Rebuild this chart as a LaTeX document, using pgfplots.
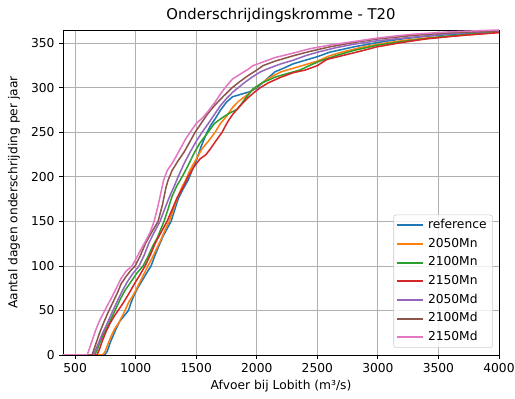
\documentclass[border=0pt]{standalone}
\usepackage{fontspec}
\setmainfont{DejaVu Sans}
\usepackage{pgfplots}
\pgfplotsset{compat=1.18}

\definecolor{c0}{HTML}{1F77B4}
\definecolor{c1}{HTML}{FF7F0E}
\definecolor{c2}{HTML}{2CA02C}
\definecolor{c3}{HTML}{D62728}
\definecolor{c4}{HTML}{9467BD}
\definecolor{c5}{HTML}{8C564B}
\definecolor{c6}{HTML}{E377C2}
\definecolor{gridgray}{HTML}{B0B0B0}
\definecolor{legframe}{HTML}{CCCCCC}

\newcommand{\lblfont}{\fontsize{9.2}{11}\selectfont}

\begin{document}
\begin{tikzpicture}
\path[use as bounding box] (-47.25pt,-33pt) rectangle (339pt,266.25pt);
\begin{axis}[
  scale only axis,
  width=327pt, height=243.75pt,
  xmin=400, xmax=4000, ymin=0, ymax=365,
  xtick={500,1000,...,4000},
  ytick={0,50,...,350},
  minor tick num=0,
  tick pos=left,
  tick align=outside,
  major tick length=2.8pt,
  tick style={black, line width=0.63pt},
  axis line style={line width=0.63pt},
  grid=major,
  grid style={color=gridgray, line width=0.63pt},
  /pgf/number format/1000 sep={},
  /pgf/number format/assume math mode=true,
  ticklabel style={font=\lblfont},
  title={Onderschrijdingskromme - T20},
  every axis title/.style={at={(axis description cs:0.5,1.046)}, anchor=center, font=\fontsize{11.1}{13}\selectfont},
  xlabel={Afvoer bij Lobith (m³/s)},
  ylabel={Aantal dagen onderschrijding per jaar},
  every axis x label/.style={at={(axis description cs:0.5,-0.096)}, anchor=center, font=\lblfont},
  every axis y label/.style={at={(axis description cs:-0.1124,0.5)}, rotate=90, anchor=center, font=\lblfont},
  legend cell align=left,
  legend style={
    at={(axis description cs:1,0)}, anchor=south east,
    xshift=-4.5pt, yshift=5.25pt,
    draw=legframe, rounded corners=2pt,
    fill=white, fill opacity=0.8, text opacity=1, draw opacity=1,
    font=\lblfont, row sep=5.4pt,
    inner xsep=2pt, inner ysep=3.5pt,
    nodes={inner ysep=0pt, inner xsep=2.6pt, text height=6.8pt, text depth=1.8pt},
  },
  legend image code/.code={\draw[#1, line width=1.6pt, draw opacity=1] (0pt,0pt) -- (19.5pt,0pt);},
  every axis plot/.append style={line width=1.15pt, line join=round},
]

% reference
\addplot[c0, line width=1.15pt] coordinates {
(400,0) (745,0) (765,4) (790,14) (815,22) (840,30) (870,38) (905,44) (940,50)
(965,60) (990,68) (1020,76) (1060,85) (1095,93) (1127,100) (1160,112) (1190,122)
(1225,133) (1260,142) (1292,150) (1320,162) (1350,175) (1390,186) (1432,196)
(1465,207) (1500,218) (1540,234) (1589,250) (1620,258) (1660,266) (1700,275)
(1750,284) (1800,290) (1850,292) (1900,294) (1950,296) (2000,300) (2050,306)
(2100,312) (2150,318) (2220,322) (2300,327) (2400,331) (2500,335) (2600,340)
(2800,346) (3000,351) (3200,355) (3400,358) (3600,360) (3800,362) (4000,364)
};
\addlegendentry{reference}

% 2050Mn
\addplot[c1, line width=1.15pt] coordinates {
(400,0) (725,0) (745,3) (770,12) (800,22) (830,30) (860,36) (890,44) (912,50)
(945,60) (975,66) (1010,75) (1050,86) (1080,94) (1102,100) (1140,110) (1175,120)
(1210,130) (1245,141) (1276,150) (1310,163) (1345,177) (1380,188) (1408,195)
(1450,208) (1500,220) (1550,232) (1600,240) (1655,250) (1700,260) (1750,268)
(1800,278) (1850,285) (1920,292) (1985,300) (2050,306) (2100,311) (2200,318)
(2300,322) (2400,326) (2500,330) (2600,336) (2700,340) (2850,345) (3000,349)
(3200,353) (3400,356) (3600,358) (3800,360) (4000,363)
};
\addlegendentry{2050Mn}

% 2100Mn
\addplot[c2, line width=1.15pt] coordinates {
(400,0) (660,0) (680,5) (705,14) (730,22) (760,30) (795,40) (830,50) (870,62)
(910,72) (960,82) (1010,92) (1061,100) (1100,110) (1140,122) (1180,132) (1234,150)
(1270,165) (1300,178) (1340,190) (1383,200) (1430,212) (1480,226) (1530,238)
(1597,250) (1650,260) (1720,267) (1780,272) (1840,276) (1900,287) (1969,299)
(2050,306) (2150,312) (2250,316) (2356,320) (2450,326) (2520,330) (2650,336)
(2800,342) (3000,348) (3200,352) (3500,357) (3800,361) (4000,363)
};
\addlegendentry{2100Mn}

% 2150Mn
\addplot[c3, line width=1.15pt] coordinates {
(400,0) (680,0) (700,6) (725,16) (755,26) (790,36) (825,44) (855,50) (895,58)
(940,68) (990,80) (1035,90) (1078,100) (1120,112) (1160,125) (1210,138) (1259,150)
(1300,163) (1340,176) (1390,188) (1432,200) (1480,211) (1530,220) (1580,225)
(1620,232) (1660,240) (1713,250) (1760,262) (1800,270) (1850,278) (1920,288)
(1980,295) (2026,300) (2100,306) (2200,312) (2300,317) (2400,320) (2500,325)
(2580,332) (2700,336) (2850,341) (2990,346) (3200,351) (3400,355) (3700,359)
(4000,362)
};
\addlegendentry{2150Mn}

% 2050Md
\addplot[c4, line width=1.15pt] coordinates {
(400,0) (650,0) (670,6) (695,14) (725,24) (760,34) (790,43) (813,50) (850,61)
(890,72) (930,82) (980,92) (1028,100) (1070,112) (1110,126) (1150,137) (1201,150)
(1240,164) (1280,178) (1320,190) (1350,200) (1400,215) (1450,228) (1500,240)
(1548,250) (1600,260) (1650,270) (1700,280) (1750,288) (1800,295) (1845,300)
(1900,306) (1960,312) (2030,318) (2100,322) (2200,327) (2300,331) (2400,336)
(2500,340) (2650,345) (2800,349) (3000,353) (3300,357) (3600,361) (4000,364)
};
\addlegendentry{2050Md}

% 2100Md
\addplot[c5, line width=1.15pt] coordinates {
(400,0) (640,0) (660,8) (680,16) (705,26) (735,36) (760,44) (780,50) (815,60)
(850,70) (880,80) (920,88) (960,95) (995,100) (1040,112) (1080,125) (1120,135)
(1150,142) (1185,150) (1220,168) (1250,188) (1267,196) (1300,207) (1350,218)
(1400,228) (1450,240) (1490,250) (1540,260) (1590,270) (1650,280) (1720,290)
(1795,300) (1850,306) (1920,313) (2000,320) (2052,325) (2150,330) (2300,336)
(2440,341) (2600,346) (2800,351) (3000,355) (3300,359) (3600,362) (4000,364)
};
\addlegendentry{2100Md}

% 2150Md
\addplot[c6, line width=1.15pt] coordinates {
(400,0) (600,0) (620,8) (645,18) (670,28) (700,38) (730,46) (760,54) (800,64)
(840,75) (880,86) (920,94) (970,100) (1010,110) (1050,120) (1090,130) (1120,138)
(1152,150) (1180,165) (1205,180) (1230,196) (1260,207) (1300,215) (1330,222)
(1370,232) (1410,242) (1449,250) (1500,260) (1550,266) (1600,274) (1650,283)
(1700,293) (1737,300) (1800,310) (1870,316) (1930,321) (1969,325) (2050,329)
(2150,334) (2300,339) (2440,344) (2600,348) (2800,352) (3000,356) (3265,360)
(3600,363) (4000,365)
};
\addlegendentry{2150Md}

\end{axis}
\end{tikzpicture}
\end{document}
